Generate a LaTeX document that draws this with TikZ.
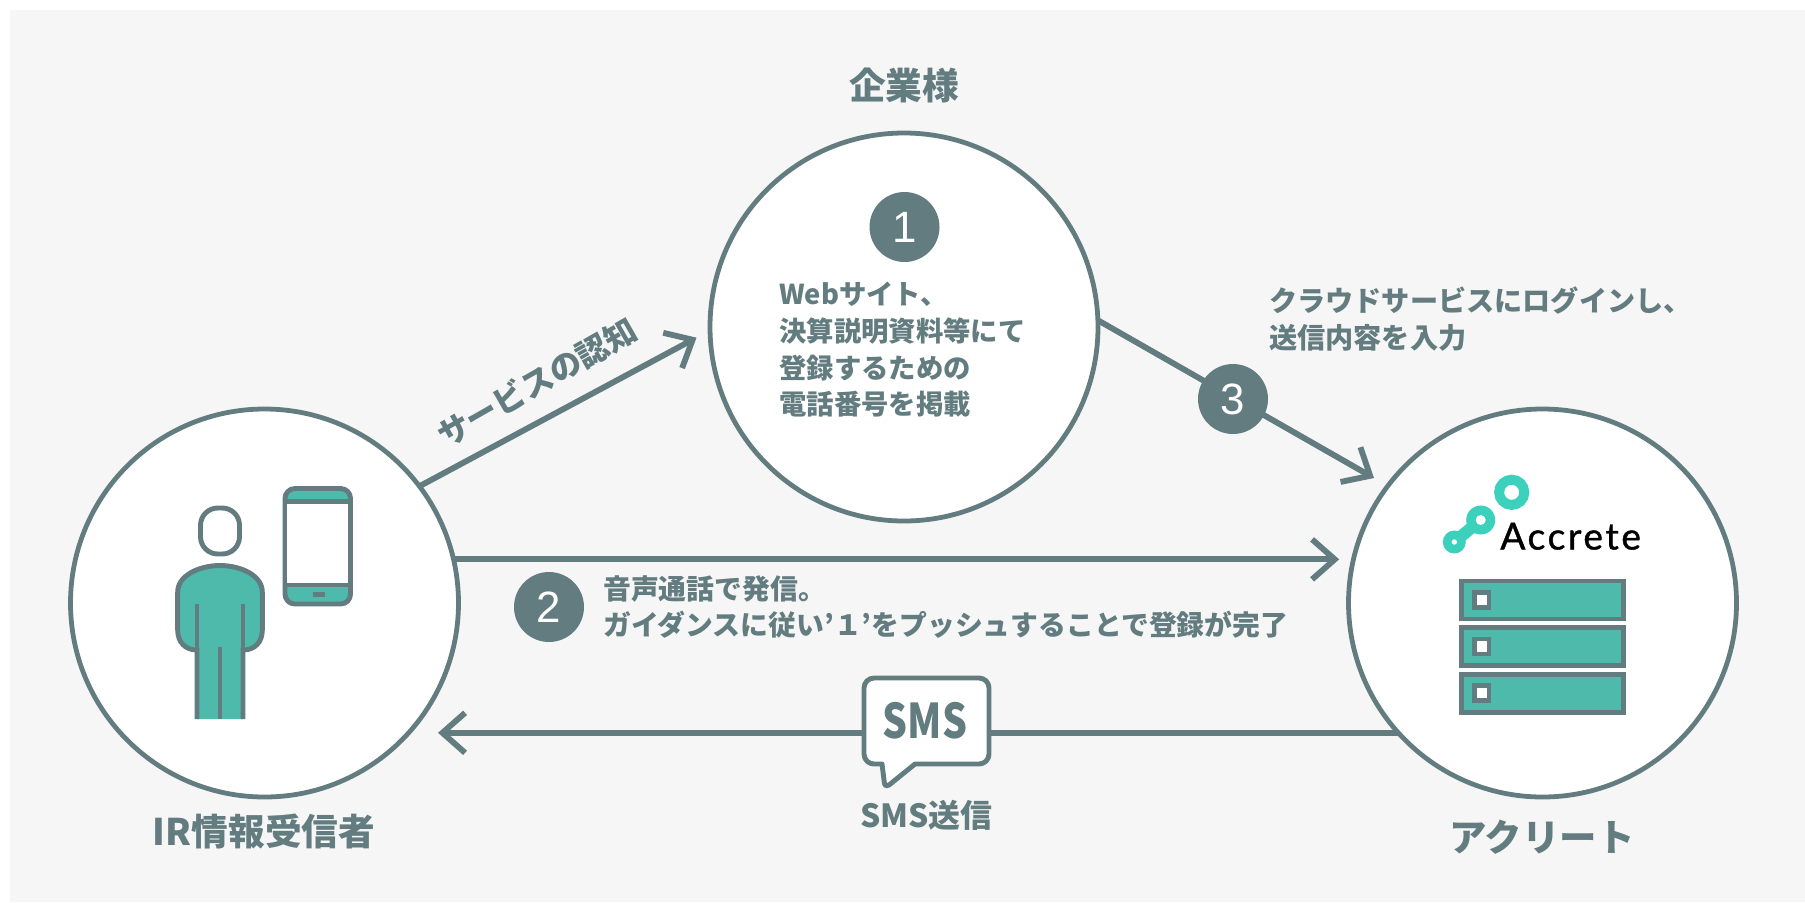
\documentclass[tikz,border=0pt]{standalone}
\usepackage{fontspec}
\setmainfont{Noto Sans CJK JP}
\newfontfamily\digitfont{Liberation Sans}
\newfontfamily\logofont[LetterSpace=7,FakeBold=1]{Lato}
\usetikzlibrary{arrows.meta}
\definecolor{slate}{HTML}{637C80}
\definecolor{teal1}{HTML}{4DBAAB}
\definecolor{mint}{HTML}{3BD1BC}
\definecolor{paper}{HTML}{F6F6F6}
\newcommand{\pxfont}[2]{\fontsize{#1}{#2}\selectfont}

\begin{document}
\begin{tikzpicture}[x=.75bp,y=-.75bp,
  party/.style={circle,draw=slate,fill=white,line width=3.6pt,minimum size=291bp,outer sep=0pt,inner sep=0pt},
  badge/.style={circle,fill=slate,text=white,minimum size=52.5bp,inner sep=0pt,font=\digitfont\pxfont{33pt}{33pt}},
  flow/.style={draw=slate,line width=4.4pt,-{Straight Barb[length=17bp,width=30bp,line width=4.4pt]}},
  title/.style={text=slate,font=\bfseries\pxfont{27.6pt}{33pt},inner sep=0pt},
  body/.style={text=slate,font=\bfseries\pxfont{20.6pt}{27.6pt},align=left,inner sep=0pt,anchor=west},
  icon/.style={draw=slate,line width=3.7pt}]
  \path[use as bounding box] (0,0) rectangle (1805,902);
  \fill[paper] (10,10) rectangle (1805,902);

  \node[party] (company) at (904,327) {};
  \node[party] (user) at (264.5,603) {};
  \node[party] (accrete) at (1542.5,603) {};

  \draw[flow,shorten >=11.5bp] (user.37) -- (company.181);
  \draw[flow] (company.2) -- (1374,478) coordinate (logintip);
  \draw[flow,shorten >=7bp] (user.13.6) -- (user.13.6 -| accrete.west);
  \draw[flow,shorten >=22bp] (accrete.222) -- (user.-42);

  \node[title] (companylabel) at (904,85) {企業様};
  \node[title] (userlabel) at (264,831) {IR情報受信者};
  \node[title,font=\bfseries\pxfont{28.2pt}{33pt}] (accretelabel) at (1542,837) {アクリート};
  \node[title,font=\bfseries\pxfont{24pt}{27pt}] (smslabel) at (926.5,815) {SMS送信};

  \node[badge] (one) at (904.5,227) {1};
  \node[badge] (two) at (549,607) {2};
  \node[badge] (three) at (1233,399) {3};

  \node[body] (sitetext) at (779,350) {Webサイト、\\決算説明資料等にて\\登録するための\\電話番号を掲載};
  \node[body,font=\bfseries\pxfont{21.2pt}{27.6pt}] (logintext) at (1269,319) {クラウドサービスにログインし、\\送信内容を入力};
  \node[body,font=\bfseries\pxfont{20.95pt}{27.6pt}] (calltext) at (603,607) {音声通話で発信。\\ガイダンスに従い’１’をプッシュすることで登録が完了};
  \node[body,anchor=center,rotate=29.7,font=\bfseries\pxfont{24pt}{27pt}] (noticetext) at (537,382) {サービスの認知};

  \draw[icon,fill=white,line join=round] (874,678) -- (979,678) arc[start angle=-90,end angle=0,radius=10] -- (989,754) arc[start angle=0,end angle=90,radius=10] -- (915,764) -- (889,785) .. controls (887,786.5) and (885,786) .. (884.5,784) -- (882,764) -- (874,764) arc[start angle=90,end angle=180,radius=10] -- (864,688) arc[start angle=180,end angle=270,radius=10] -- cycle;
  \node[text=slate,font=\bfseries\pxfont{36pt}{36pt},inner sep=0pt,xscale=.82] (smstext) at (925,721) {SMS};

  \draw[icon,fill=white,rounded corners=13pt] (200.5,508) rectangle (239.5,554);
  \fill[teal1] (197,719) -- (197,650) .. controls (185,650) and (177.7,642) .. (177.7,630) -- (177.7,592) .. controls (177.7,575) and (200,565.5) .. (220,565.5) .. controls (240,565.5) and (262.3,575) .. (262.3,592) -- (262.3,630) .. controls (262.3,642) and (255,650) .. (243,650) -- (243,719) -- cycle;
  \draw[icon] (197,719) -- (197,650) .. controls (185,650) and (177.7,642) .. (177.7,630) -- (177.7,592) .. controls (177.7,575) and (200,565.5) .. (220,565.5) .. controls (240,565.5) and (262.3,575) .. (262.3,592) -- (262.3,630) .. controls (262.3,642) and (255,650) .. (243,650) -- (243,719);
  \draw[icon] (197,604) -- (197,650);
  \draw[icon] (243,604) -- (243,650);
  \draw[icon] (220,646.5) -- (220,719);

  \draw[icon,fill=teal1,rounded corners=7.5pt] (285,488.5) rectangle (350.5,604);
  \draw[icon,fill=white] (285,501.7) rectangle (350.5,585);
  \fill[slate] (312.7,592) rectangle (325,597);

  \foreach \rowy in {600,646.5,693.3} {
    \draw[icon,fill=teal1] (1461.5,\rowy-19) rectangle (1623.5,\rowy+19);
    \draw[icon,fill=white] (1474.5,\rowy-7.5) rectangle (1489,\rowy+7.5);
  }

  \draw[mint,line width=7.5pt] (1511.7,492.3) circle[radius=12.6];
  \fill[mint] (1480.7,520) circle[radius=14.5];
  \fill[mint] (1454.3,542) circle[radius=11.5];
  \draw[mint,line width=9pt] (1480.7,520) -- (1454.3,542);
  \fill[white] (1480.7,520) circle[radius=5];
  \fill[white] (1454.3,542) circle[radius=2.7];
  \node[font=\logofont\pxfont{28pt}{28pt},text=black,inner sep=0pt,anchor=base west] (accretelogo) at (1500,549.5) {Accrete};
\end{tikzpicture}
\end{document}
